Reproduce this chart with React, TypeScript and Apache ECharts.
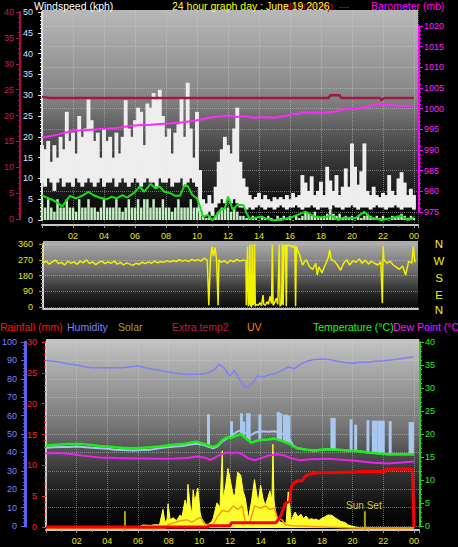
import { useEffect, useRef } from 'react';
import * as echarts from 'echarts';

const FONT = '"Liberation Sans", Arial, sans-serif';

// ---------- Panel 1 : wind (kph), indoor temp, barometer ----------
const WIND_STEP_H = 0.2;
const gustHigh = [
  18, 17, 19, 14, 18, 15, 20, 17, 26, 19, 21, 16, 25, 20, 22, 29, 24, 19, 21, 15,
  22, 19, 20, 15, 21, 16, 20, 28.8, 22, 20, 24, 27, 26, 18, 28, 27, 30.5, 29, 31.3, 25,
  20, 22, 16, 21, 23, 29.6, 20, 33, 22, 15, 26,
  12, 5, 4, 6, 4, 8, 14, 17, 20, 18, 16, 22, 27, 14, 10, 8,
  6, 5, 5.5, 6.5, 5, 6, 5, 4.5, 5.5, 5, 5.5, 5, 6, 5, 6.5, 5.5, 6, 10.8, 9, 7,
  10.5, 6, 7, 9.2, 6, 12.8, 9.5, 7, 10.8, 6, 8, 12.4, 8, 18.4, 12.8, 8.5, 11.7, 18.4, 7, 6,
  8, 6, 5.5, 6.5, 6, 10.8, 7, 6, 10, 11.5, 9, 6, 7.5, 6,
];
const gustLow = [
  9, 8, 10, 9, 7, 9, 10, 8, 9, 9, 8, 10, 9, 8, 9, 10, 9, 8, 9, 10,
  8, 9, 9, 10, 8, 9, 10, 9, 8, 9, 10, 9, 8, 9, 10, 9, 9, 8, 10, 9,
  9, 10, 8, 9, 9, 10, 8, 9, 10, 9, 8,
  2, 1, 1, 2, 1, 3, 4, 5, 4, 5, 4, 5, 4, 3, 3, 2.5,
  3, 2.5, 3, 3.5, 3, 2.5, 3, 3, 2.5, 3, 3.5, 3, 2.5, 3, 3, 3.5, 3, 2.5, 3, 3,
  3.5, 3, 2.5, 3, 3, 3, 2.5, 3.5, 3, 3, 2.5, 3, 3, 3.5, 3, 2.5, 3, 3, 3, 2.5,
  3, 3.5, 3, 3, 2.5, 3, 3, 3.5, 3, 2.5, 3, 3, 3, 2.5,
];
const windAvgBars = [
  5, 3, 5, 3, 2, 5, 3, 3, 5, 3, 3, 2, 5, 3, 3, 5, 3, 3, 2, 3,
  5, 3, 3, 3, 5, 3, 2, 3, 5, 3, 3, 5, 3, 5, 5, 3, 5, 3, 3, 5,
  3, 3, 2, 3, 5, 3, 3, 3, 5, 3, 3,
  2, 1, 0.5, 1, 0, 1, 2, 3, 3, 3, 2, 3, 2, 1, 1, 0.5,
  0.5, 1, 0.5, 0, 1, 0.5, 1, 0.5, 0, 1, 0.5, 1, 0.5, 1, 0, 1, 0.5, 1, 2, 1.5,
  1, 2, 1, 0.5, 1, 1.5, 2.5, 1.5, 1, 1.5, 0.5, 1, 0.5, 1, 0, 1, 0.5, 1, 1.5, 1,
  0.5, 1, 0.5, 1, 0.5, 0, 1, 0.5, 1, 1.5, 1, 0.5, 1, 0.5,
];
const windAvgLine = [
  [0, 6], [0.3, 5.4], [0.7, 4.8], [1, 4.2], [1.3, 3.2], [1.6, 4.8], [1.8, 5.8], [2.2, 5.2], [2.7, 6], [3, 6.8],
  [3.3, 6], [3.7, 5.4], [4.2, 5], [4.5, 5.6], [4.8, 5.2], [5.2, 6], [5.5, 5.4], [5.9, 6.4], [6.3, 8], [6.6, 6.8],
  [7, 8.7], [7.3, 7.6], [7.6, 8], [7.9, 6.8], [8.3, 6.4], [8.6, 5.8], [8.9, 5.8], [9.2, 8.4], [9.4, 8.2], [9.7, 6],
  [10, 5.2], [10.2, 3.2], [10.4, 0.8], [10.7, 1.2], [11, 0], [11.5, 2.4], [11.8, 2.8], [12, 5.6], [12.1, 4.8], [12.3, 2.4],
  [12.6, 3.6], [13, 3.6], [13.2, 1.6], [13.4, 0.3], [14.1, 0.8], [14.8, 0], [15.4, 0], [16.2, 0.8], [17, 2], [17.6, 0.8],
  [18.3, 0.6], [18.6, 1.2], [19.1, 0], [19.5, 0.6], [20.2, 0.4], [20.8, 2], [21.2, 0.6], [21.9, 0], [22.5, 0.4], [23.2, 1],
  [23.6, 0], [24, 0.6],
];
const indoorTemp = [
  [0, 23.6], [0.5, 23.4], [3, 23.4], [6, 23.4], [9, 23.4], [12, 23.4], [15, 23.4], [18.5, 23.4], [18.6, 23.9],
  [19.2, 23.9], [19.3, 23.4], [21.8, 23.4], [21.9, 23.0], [22.1, 23.4], [24, 23.4],
];
const barometer = [
  [0, 993.0], [0.5, 993.3], [1.2, 993.9], [1.6, 994.3], [2.0, 994.7], [2.7, 994.8], [3.8, 995.1], [4.8, 995.3],
  [5.9, 995.9], [7.0, 996.1], [8.1, 996.4], [9.1, 996.7], [9.8, 997.1], [10.2, 997.3], [11.0, 998.0], [11.5, 998.1],
  [12.1, 998.3], [12.5, 998.0], [13.1, 998.2], [13.6, 997.8], [14.4, 998.0], [15.0, 997.8], [15.7, 998.2], [16.2, 998.8],
  [16.5, 998.6], [16.8, 999.1], [17.4, 999.0], [18.3, 999.0], [18.9, 999.3], [19.5, 999.9], [20.4, 1000.0], [21.1, 1000.6],
  [21.6, 1001.1], [22.1, 1001.0], [23.0, 1000.7], [24, 1000.6],
];

// ---------- Panel 2 : wind direction (deg) ----------
const windDir = [
  [0, 250], [0.2, 262], [0.4, 245], [0.6, 258], [0.8, 268], [1, 248], [1.2, 255], [1.4, 240], [1.6, 262], [1.8, 250],
  [2, 258], [2.2, 244], [2.4, 262], [2.6, 252], [2.8, 270], [3, 248], [3.2, 258], [3.4, 242], [3.6, 255], [3.8, 262],
  [4, 248], [4.2, 258], [4.4, 250], [4.6, 262], [4.8, 245], [5, 255], [5.2, 240], [5.4, 252], [5.6, 245], [5.8, 238],
  [6, 250], [6.2, 244], [6.4, 256], [6.6, 248], [6.8, 258], [7, 250], [7.2, 262], [7.4, 252], [7.6, 260], [7.8, 255],
  [8, 265], [8.2, 258], [8.4, 266], [8.6, 260], [8.8, 270], [9, 262], [9.2, 268], [9.4, 260], [9.6, 272], [9.8, 264],
  [10, 270], [10.2, 262], [10.4, 280], [10.6, 268], [10.7, 10], [10.8, 270], [10.9, 345], [11, 290], [11.1, 340], [11.2, 275],
  [11.3, 10], [11.35, 270], [11.5, 255], [11.7, 265], [11.9, 250], [12.1, 268], [12.3, 258], [12.5, 272], [12.7, 262], [12.9, 268],
  [13.1, 265], [13.12, 10], [13.2, 345], [13.25, 5], [13.3, 20], [13.35, 355], [13.4, 10], [13.45, 0], [13.5, 355], [13.55, 10],
  [13.6, 20], [13.65, 358], [13.7, 5], [13.75, 15], [13.9, 10], [14, 25], [14.1, 8], [14.2, 68], [14.25, 15], [14.35, 10],
  [14.45, 30], [14.55, 15], [14.65, 60], [14.75, 20], [14.8, 355], [14.85, 10], [14.95, 25], [15.05, 50], [15.15, 15], [15.25, 355],
  [15.3, 5], [15.4, 20], [15.45, 358], [15.5, 10], [15.55, 350], [15.65, 355], [15.7, 5], [15.75, 350], [15.85, 355], [15.95, 345],
  [16.05, 352], [16.15, 340], [16.25, 350], [16.3, 5], [16.35, 345], [16.45, 320], [16.55, 300], [16.65, 270], [16.75, 240], [16.9, 262],
  [17, 270], [17.2, 230], [17.4, 215], [17.6, 250], [17.7, 183], [17.8, 230], [18, 195], [18.2, 237], [18.4, 280], [18.5, 326],
  [18.6, 270], [18.8, 262], [19, 240], [19.2, 210], [19.4, 250], [19.6, 270], [19.8, 240], [20, 265], [20.2, 255], [20.4, 275],
  [20.6, 250], [20.8, 268], [21, 245], [21.2, 262], [21.4, 250], [21.6, 240], [21.8, 258], [21.9, 22], [21.95, 347], [22, 270],
  [22.2, 250], [22.4, 262], [22.6, 240], [22.8, 228], [23, 215], [23.2, 235], [23.4, 183], [23.6, 262], [23.8, 250], [23.9, 347],
  [24, 255],
];
const compassLetters = ['N', 'W', 'S', 'E', 'N'];

// ---------- Panel 3 : rain, humidity, solar, UV, temperature, dew point ----------
const humidity = [
  [0, 90], [0.5, 89.5], [1, 89], [1.5, 88], [2, 87.5], [2.5, 86.5], [3, 86], [4, 86], [5, 86], [5.5, 86.5],
  [6, 87], [6.5, 86], [7, 85], [7.5, 84.5], [8, 83.5], [8.5, 83], [9, 82.5], [9.5, 82.5], [10, 82.5], [10.5, 83],
  [11, 85], [11.3, 88], [11.6, 86], [12, 81.5], [12.3, 84.5], [12.6, 80], [12.9, 76], [13.2, 75.5], [13.5, 78], [13.8, 81.5],
  [14.2, 81], [14.5, 82], [15, 83], [15.5, 85], [15.8, 86.5], [16.2, 85.5], [16.6, 88], [17, 89.5], [17.5, 90.5], [18, 90.8],
  [18.5, 90.5], [19, 89.5], [19.5, 88.8], [20, 88.5], [20.5, 89], [21, 89], [21.5, 89.5], [22, 89.8], [22.5, 90.2], [23, 90.8],
  [23.5, 91.5], [24, 92],
];
const temperature = [
  [0, 17.5], [0.5, 17.6], [1, 17.7], [1.5, 17.8], [2, 17.8], [2.4, 17.8], [3, 17.6], [3.5, 17.4], [4, 17.3], [4.5, 17.1],
  [5, 17.0], [5.7, 16.9], [6.3, 17.0], [6.8, 17.1], [7.4, 17.3], [7.9, 17.5], [8.4, 17.7], [8.9, 17.8], [9.4, 18.1], [9.8, 18.3],
  [10.3, 17.9], [10.6, 17.5], [10.9, 17.2], [11.2, 17.6], [11.5, 18.7], [11.8, 19.3], [12.1, 19.2], [12.4, 19.6], [12.7, 20.0], [13.0, 19.2],
  [13.4, 18.1], [13.7, 18.5], [14.0, 18.7], [14.5, 18.8], [14.9, 19.0], [15.3, 18.6], [15.8, 18.0], [16.1, 17.4], [16.4, 16.9], [17.0, 16.6],
  [17.5, 16.4], [18.0, 16.6], [18.4, 16.7], [19.0, 16.6], [19.7, 16.4], [20.3, 16.3], [21.0, 16.0], [21.6, 15.8], [22.3, 15.6], [23.0, 15.6],
  [24, 15.6],
];
const dewPoint = [
  [0, 15.8], [0.5, 15.8], [1.1, 15.8], [1.7, 15.6], [2.4, 15.3], [3.5, 14.9], [4.5, 14.8], [5.7, 14.7], [6.5, 14.7], [7.4, 14.6],
  [8.4, 14.7], [9.2, 14.8], [9.8, 15.1], [10.3, 14.9], [10.6, 14.6], [10.7, 14.3], [11, 14.8], [11.3, 15.4], [11.8, 16.0], [12.1, 15.8],
  [12.5, 16.0], [12.8, 15.6], [13.2, 14.7], [13.6, 14.3], [14.0, 14.7], [14.5, 15.3], [15.1, 15.6], [15.5, 15.4], [16.0, 14.7], [16.6, 14.3],
  [17.2, 14.5], [18.4, 14.6], [19.3, 14.4], [20.2, 14.2], [21.2, 13.8], [22.3, 13.6], [23.2, 13.8], [24, 14.0],
];
const extraTempLine = [
  [0, 17.0], [0.5, 17.1], [1, 17.2], [1.5, 17.2], [2, 17.3], [2.4, 17.2], [3, 17.0], [3.5, 16.9], [4, 16.8], [4.5, 16.6],
  [5, 16.5], [5.7, 16.4], [6.3, 16.5], [6.8, 16.6], [7.4, 16.9], [7.9, 17.1], [8.4, 17.3], [8.9, 17.4], [9.4, 17.7], [9.8, 17.9],
  [10.3, 17.6], [10.6, 17.2], [10.9, 16.9], [11.2, 17.3], [11.5, 18.4], [11.8, 19.0], [12.1, 19.6], [12.4, 20.4], [12.7, 20.8], [13.0, 20.3],
  [13.4, 19.8], [13.7, 20.4], [14.0, 20.6], [14.5, 20.5], [14.9, 20.6], [15.3, 20.2], [15.8, 19.4], [16.1, 17.6], [16.4, 16.9], [17.0, 16.6],
  [17.5, 16.4], [18.0, 16.6], [18.4, 16.7], [19.0, 16.6], [19.7, 16.4], [20.3, 16.3], [21.0, 16.0], [21.6, 15.8], [22.3, 15.6], [23.0, 15.6],
  [24, 15.6],
];
const extraTempSpikes = [
  [10.6, 17.5, 24.3], [12.1, 19.2, 22.8], [12.75, 19.8, 24.5], [12.9, 19.6, 22.7], [13.15, 19.0, 24.5], [13.25, 18.6, 24.5],
  [13.95, 18.7, 24.3], [15.15, 18.8, 24.8], [15.3, 18.6, 24.5], [15.55, 18.3, 24.2], [15.7, 18.1, 24.2], [15.85, 17.9, 24.0],
  [18.65, 16.7, 23.5], [18.8, 16.6, 23.5], [19.9, 16.4, 23.2], [20.2, 16.3, 22.0], [21.0, 16.0, 23.0], [21.35, 15.9, 22.9],
  [21.5, 15.9, 22.9], [21.7, 15.8, 22.9], [21.85, 15.8, 22.9], [22.0, 15.7, 22.9], [22.45, 15.6, 22.8], [23.75, 15.6, 22.6],
  [23.9, 15.6, 22.6],
];
const rainfall = [
  [0, 0], [10.5, 0], [10.7, 0.2], [12.0, 0.2], [12.1, 0.7], [15.0, 0.7], [15.3, 1.7], [15.6, 3.8], [15.9, 4.2], [16.0, 6.5],
  [16.2, 7.2], [16.4, 7.5], [16.7, 7.5], [16.9, 8.2], [17.2, 8.6], [17.7, 8.8], [20.2, 8.9], [20.5, 9.0], [22.1, 9.0], [22.2, 9.35],
  [23.9, 9.35], [24.0, 0],
];
const solar = [
  [0, 0], [6.0, 0], [6.07, 5], [6.3, 16], [6.8, 14], [7.1, 18], [7.4, 16], [7.63, 100], [7.76, 30], [7.9, 48],
  [7.96, 130], [8.1, 45], [8.3, 55], [8.5, 40], [8.6, 50], [8.74, 70], [8.87, 60], [9.07, 150], [9.2, 110], [9.26, 235],
  [9.4, 120], [9.52, 75], [9.6, 205], [9.7, 140], [9.9, 215], [10.05, 85], [10.2, 30], [10.4, 16], [10.6, 20], [10.8, 35],
  [10.9, 50], [11.15, 135], [11.35, 110], [11.5, 415], [11.55, 160], [11.7, 215], [11.87, 320], [12.0, 265], [12.2, 180], [12.33, 175],
  [12.5, 300], [12.7, 285], [12.85, 200], [13.0, 160], [13.2, 50], [13.4, 140], [13.5, 200], [13.6, 260], [13.83, 135], [14.0, 230],
  [14.15, 160], [14.3, 120], [14.5, 170], [14.6, 200], [14.74, 150], [14.8, 450], [14.87, 150], [15.0, 70], [15.26, 32], [15.46, 27],
  [15.66, 27], [15.8, 195], [15.9, 125], [15.98, 32], [16.1, 60], [16.24, 86], [16.44, 60], [16.63, 75], [16.8, 50], [16.96, 65],
  [17.15, 45], [17.3, 50], [17.5, 45], [17.6, 48], [17.8, 40], [17.94, 50], [18.2, 60], [18.4, 70], [18.66, 68], [18.85, 55],
  [19.05, 45], [19.24, 35], [19.5, 30], [19.7, 16], [19.96, 10], [20.2, 5], [20.5, 0], [24, 0],
];
const uvIndex = [
  [0, 0], [7.8, 0], [8.0, 0.3], [8.7, 0.6], [9.2, 0.7], [9.5, 0.5], [9.9, 0.8], [10.1, 0.9], [10.4, 0.3], [10.9, 0.3],
  [11.2, 1.0], [11.5, 1.5], [11.9, 1.4], [12.2, 1.9], [12.5, 1.6], [12.8, 1.9], [13.0, 0.5], [13.3, 0.5], [13.6, 1.9], [14.0, 1.7],
  [14.3, 1.9], [14.6, 1.6], [14.9, 1.7], [15.1, 0.8], [15.4, 0.7], [15.6, 0.3], [16, 0.2], [20, 0], [24, 0],
];
const sunTimes = [5.15, 20.8];
const sunLabels = ['', 'Sun Set'];
const SUN_MARK = 90;

const legend3 = [
  { text: 'Rainfall (mm)', color: '#ff1010', x: 0 },
  { text: 'Humidity', color: '#8080ff', x: 67 },
  { text: 'Solar', color: '#a0a028', x: 118 },
  { text: 'Extra temp2', color: '#c01848', x: 172 },
  { text: 'UV', color: '#ff8010', x: 247 },
  { text: 'Temperature (°C)', color: '#10ff10', x: 313 },
  { text: 'Dew Point (°C)', color: '#ff10ff', x: 393 },
];

const hourFmt = (v: number) => {
  const r = Math.round(v);
  if (Math.abs(v - r) > 1e-6 || r === 0) return '';
  return String(r % 24).padStart(2, '0');
};
const plainFmt = (v: number) => String(v);

const grad = (stops: [number, string][]) =>
  new echarts.graphic.LinearGradient(0, 0, 0, 1, stops.map(([offset, color]) => ({ offset, color })));

const rangeBar = (color: string, step: number | null, px: number, frac: number) =>
  (_p: any, api: any) => {
    const t = api.value(0);
    const lo = api.value(1);
    const hi = api.value(2);
    const a = api.coord([t, hi]);
    const b = api.coord([t, lo]);
    const w = step ? api.size([step, 0])[0] * frac : px;
    return {
      type: 'rect',
      shape: { x: a[0] - w / 2, y: a[1], width: w, height: Math.max(0.5, b[1] - a[1]) },
      style: { fill: color },
    };
  };

const lineS = (x: number, y: number, data: any, color: string, width: number, extra: any = {}) => ({
  type: 'line', xAxisIndex: x, yAxisIndex: y, data, showSymbol: false, symbol: 'none', clip: false,
  silent: true, lineStyle: { color, width }, ...extra,
});

export default function App() {
  const ref = useRef<HTMLDivElement>(null);
  useEffect(() => {
    if (!ref.current) return;
    const chart = echarts.init(ref.current, undefined, { renderer: 'svg' });
    const X1 = 24.26, X2 = 24.2, X3 = 24.33;
    const baseGrid = { outerBoundsMode: 'none', containLabel: false, borderWidth: 0 };
    const grids = [
      { left: 42, width: 376, top: 10, height: 215, show: true, backgroundColor: grad([[0, '#b8b8b8'], [0.4, '#858585'], [0.68, '#3c3c3c'], [0.88, '#121212'], [1, '#000']]) },
      { left: 42, width: 376, top: 12, height: 208 },
      { left: 42, width: 376, top: 12, height: 207 },
      { left: 42, width: 376, top: 26, height: 186 },
      { left: 43, width: 375, top: 241, height: 68, show: true, backgroundColor: grad([[0, '#b0b0b0'], [0.45, '#6a6a6a'], [0.8, '#222'], [1, '#050505']]) },
      { left: 43, width: 375, top: 244, height: 63 },
      { left: 46, width: 373, top: 339, height: 191, show: true, backgroundColor: grad([[0, '#c4c4c4'], [0.45, '#777'], [0.72, '#2e2e2e'], [0.9, '#0a0a0a'], [1, '#000']]) },
      { left: 46, width: 373, top: 342, height: 184 },
      { left: 46, width: 373, top: 342, height: 185 },
      { left: 46, width: 373, top: 342, height: 184 },
      { left: 46, width: 373, top: 342, height: 186 },
    ].map((g) => ({ ...baseGrid, ...g }));

    const dotted = { show: true, lineStyle: { color: 'rgba(215,215,215,0.45)', type: 'dotted', width: 1 } };
    const hidX = (gi: number, max: number) => ({ type: 'value', gridIndex: gi, min: 0, max, show: false });
    const timeAxis = (gi: number, max: number) => ({
      type: 'value', gridIndex: gi, min: 0, max, interval: 2,
      axisLine: { show: true, onZero: false, lineStyle: { color: '#c8c8c8', width: 2 } },
      axisTick: { show: true, length: 3, lineStyle: { color: '#a0a0a0' } },
      minorTick: { show: true, splitNumber: 2, length: 2, lineStyle: { color: '#909090' } },
      axisLabel: { color: '#e6e600', fontSize: 9, fontFamily: FONT, margin: 6, formatter: hourFmt, showMinLabel: true, showMaxLabel: true },
      splitLine: dotted,
    });
    const yAx = (gi: number, min: number, max: number, interval: number, color: string, labelColor: string,
      opts: any = {}) => ({
      type: 'value', gridIndex: gi, min, max, interval, position: opts.position || 'left', offset: opts.offset || 0,
      axisLine: { show: true, onZero: false, lineStyle: { color: opts.lineColor || color, width: opts.lineWidth || 2 } },
      axisTick: { show: true, length: 4, lineStyle: { color } },
      minorTick: { show: true, splitNumber: opts.minor || 5, length: 2, lineStyle: { color } },
      axisLabel: { color: labelColor, fontSize: 9, fontFamily: FONT, margin: opts.margin || 6, formatter: plainFmt },
      splitLine: opts.split ? dotted : { show: false },
    });

    const xAxis = [
      timeAxis(0, X1), hidX(1, X1), hidX(2, X1), hidX(3, X1),
      { type: 'value', gridIndex: 4, min: 0, max: X2, axisLine: { show: true, onZero: false, lineStyle: { color: '#c8c8c8', width: 2 } }, axisTick: { show: false }, axisLabel: { show: false }, splitLine: { show: false } },
      hidX(5, X2),
      timeAxis(6, X3), hidX(7, X3), hidX(8, X3), hidX(9, X3), hidX(10, X3),
    ];
    const yAxis = [
      { type: 'value', gridIndex: 0, min: 0, max: 1, show: false },
      yAx(1, 0, 50, 5, '#e0e0e0', '#d4e4ff', { margin: 9 }),
      yAx(2, 0, 40, 5, '#a8104c', '#c8185a', { offset: 22, margin: 6 }),
      yAx(3, 975, 1020, 5, '#ff00ff', '#ff20ff', { position: 'right', offset: 1, margin: 5, split: true }),
      { type: 'value', gridIndex: 4, min: 0, max: 1, show: false },
      yAx(5, 0, 360, 90, '#a8a800', '#e8e800', { lineColor: '#d8d8d8', margin: 10, minor: 4, split: true }),
      { type: 'value', gridIndex: 6, min: 0, max: 1, show: false },
      yAx(7, 0, 100, 10, '#6060f0', '#8080ff', { offset: 21, margin: 8, lineWidth: 3, split: true }),
      yAx(8, 0, 30, 5, '#ff2020', '#ff2020', { lineColor: '#c8c8c8', margin: 9 }),
      yAx(9, 0, 40, 5, '#20d020', '#20f020', { position: 'right', offset: 1, margin: 5 }),
      { type: 'value', gridIndex: 10, min: 0, max: 1000, show: false },
      { type: 'value', gridIndex: 10, min: 0, max: 16, show: false },
    ];

    const gustData = gustHigh.map((h, i) => [i * WIND_STEP_H, gustLow[i], h]);
    const avgData = windAvgBars.map((v, i) => [i * WIND_STEP_H, 0, v]);

    const series: any[] = [
      { type: 'custom', xAxisIndex: 1, yAxisIndex: 1, data: gustData, dimensions: ['t', 'lo', 'hi'], encode: { x: 0, y: [1, 2] }, renderItem: rangeBar('#eeeeee', WIND_STEP_H, 0, 1.25), silent: true },
      { type: 'custom', xAxisIndex: 1, yAxisIndex: 1, data: avgData, dimensions: ['t', 'lo', 'hi'], encode: { x: 0, y: [1, 2] }, renderItem: rangeBar('#c4eec4', WIND_STEP_H, 0, 0.8), silent: true },
      lineS(1, 1, windAvgLine, '#14e014', 2),
      lineS(2, 2, indoorTemp, '#a01848', 2.5),
      lineS(3, 3, barometer, '#ff28ff', 2),
      lineS(5, 5, windDir, '#f2f200', 1.5),
      { type: 'custom', xAxisIndex: 9, yAxisIndex: 9, data: extraTempSpikes, dimensions: ['t', 'lo', 'hi'], encode: { x: 0, y: [1, 2] }, renderItem: rangeBar('#a8c8f0', null, 3, 1), silent: true },
      lineS(9, 9, extraTempLine, '#a8c4f0', 2),
      lineS(7, 7, humidity, '#8080f4', 1.5),
      lineS(10, 10, solar, '#ffff30', 1, { areaStyle: { color: '#ffff30', opacity: 1 } }),
      lineS(10, 11, uvIndex, '#ff9a10', 1.5),
      {
        type: 'custom', xAxisIndex: 10, yAxisIndex: 10, data: sunTimes.map((t) => [t]), dimensions: ['t'], encode: { x: 0 }, silent: true,
        renderItem: (p: any, api: any) => {
          const t = api.value(0);
          const top = api.coord([t, SUN_MARK]);
          const bot = api.coord([t, 0]);
          const children: any[] = [
            { type: 'line', shape: { x1: top[0], y1: top[1], x2: bot[0], y2: bot[1] + 2 }, style: { stroke: '#a8a800', lineWidth: 2 } },
          ];
          const lbl = sunLabels[p.dataIndex];
          if (lbl) children.push({ type: 'text', x: top[0] - 1, y: top[1] - 1, style: { text: lbl, fill: '#c8c840', fontSize: 10, fontFamily: FONT, align: 'center', verticalAlign: 'bottom' } });
          return { type: 'group', children };
        },
      },
      lineS(9, 9, dewPoint, '#f020f0', 2),
      lineS(9, 9, temperature, '#18f018', 2.5),
      lineS(8, 8, rainfall, '#ff0000', 3),
    ];

    const txt = (text: string, x: number, y: number, fill: string, size = 10.5, align = 'left') => ({
      type: 'text', x, y, silent: true, z: 100,
      style: { text, fill, fontSize: size, fontFamily: FONT, align, verticalAlign: 'middle' },
    });
    const compassY = [244, 261, 278, 295, 310];
    const graphic = [
      txt('Windspeed (kph)', 34, 5.5, '#ffffff'),
      txt('Indoor temp. ---', 277, 5.5, '#a01040'),
      txt('24 hour graph day : June 19 2026', 172, 5.5, '#ffff00'),
      txt('Barometer (mb)', 371, 5.5, '#ff00ff'),
      ...compassLetters.map((c, i) => txt(c, 439, compassY[i], '#f0f000', 11.5, 'center')),
      ...legend3.map((l) => txt(l.text, l.x, 326.5, l.color)),
    ];

    chart.setOption({
      animation: false,
      backgroundColor: '#000000',
      textStyle: { fontFamily: FONT },
      grid: grids,
      xAxis,
      yAxis,
      series,
      graphic,
    });
    return () => chart.dispose();
  }, []);
  return <div ref={ref} style={{ position: 'absolute', left: 0, top: 0, width: 458, height: 547, background: '#000' }} />;
}
